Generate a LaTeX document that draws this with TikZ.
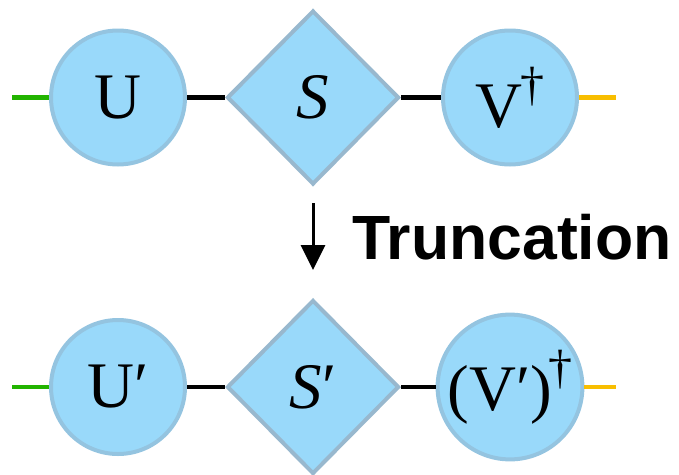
\documentclass[tikz,border=0pt]{standalone}
\usepackage{fontspec}
\setmainfont{Liberation Serif}
\newfontfamily\sansbold{Liberation Sans}
\usetikzlibrary{shapes.geometric,arrows.meta}
\definecolor{nodefill}{RGB}{153,217,250}
\definecolor{circborder}{RGB}{148,196,224}
\definecolor{diaborder}{RGB}{152,184,206}
\definecolor{legG}{RGB}{34,180,0}
\definecolor{legO}{RGB}{248,190,0}
\newcommand{\dagsup}{\kern-1pt\raisebox{27pt}{\fontsize{48}{48}\selectfont †}}
\begin{document}
\begin{tikzpicture}[x=1pt,y=-1pt,
  tensor/.style={circle,fill=nodefill,draw=circborder,line width=4pt,minimum size=134pt,inner sep=0pt,font=\fontsize{65}{65}\selectfont},
  core/.style={diamond,fill=nodefill,draw=diaborder,line width=4pt,minimum width=172pt,minimum height=174pt,inner sep=0pt,font=\fontsize{65}{65}\selectfont},
  bond/.style={line width=4.5pt,black},
  leg/.style={line width=4.5pt}]
\useasboundingbox (0,0) rectangle (679,474);
% top row
\coordinate (gl1) at (12,97.5);
\coordinate (or1) at (616,97.5);
\node[tensor] (U) at (118,97.5) {U};
\node[core] (S) at (313,97.5) {\textit{S}};
\node[tensor] (V) at (510,97.5) {V\dagsup};
\draw[leg,legG] (gl1) -- (U.west);
\draw[bond] (U.east) -- (S.west);
\draw[bond] (S.east) -- (V.west);
\draw[leg,legO] (V.east) -- (or1);
% arrow and label
\coordinate (a1) at (313,203);
\coordinate (a2) at (313,270);
\draw[line width=3pt,-{Triangle[width=24pt,length=25pt]}] (a1) -- (a2);
\node[anchor=base west,inner sep=0pt,font=\sansbold\bfseries\fontsize{62.5}{62.5}\selectfont] (trunc) at (352,259) {Truncation};
% bottom row
\coordinate (gl2) at (12,387);
\coordinate (or2) at (616,387);
\node[tensor] (U2) at (118,387) {U′};
\node[core] (S2) at (313,387) {\textit{S}′};
\node[tensor] (V2) at (510,387) {(V′)\kern-3pt\dagsup};
\draw[leg,legG] (gl2) -- (U2.west);
\draw[bond] (U2.east) -- (S2.west);
\draw[bond] (S2.east) -- (V2.west);
\draw[leg,legO] (V2.east) -- (or2);
\end{tikzpicture}
\end{document}
